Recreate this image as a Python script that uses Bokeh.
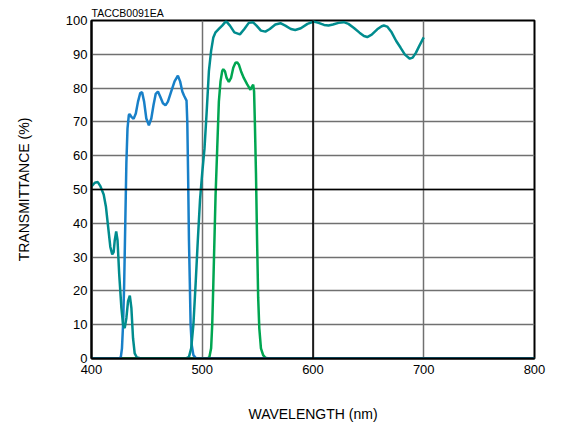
from bokeh.plotting import figure
from bokeh.models import Span, Title, FixedTicker
from bokeh.embed import file_html
from bokeh.resources import INLINE

# ---- data ----
teal_wl = [400, 403, 405.7, 408, 411, 413, 415, 417, 418.7, 420, 421, 422.3, 423.5, 425, 427,
           428.5, 430, 431.5, 433, 434.6, 436, 437.5, 439, 441, 445, 485, 488, 490, 492, 494,
           496, 498, 500, 502, 504, 506, 508, 510, 512, 515, 518, 521.5, 525, 529, 534, 538,
           542, 545.7, 549, 553, 557, 561, 566, 570.6, 575, 580, 584, 589, 595, 600.7, 605,
           610, 614, 618, 623, 627.8, 632, 637, 642, 646, 649, 653, 658, 662, 664, 667, 671,
           675, 679, 683, 687.4, 690, 693, 696, 700]
teal_t = [50.9, 52, 52.2, 51, 48.5, 45, 39, 33, 30.8, 31.5, 35, 37.6, 35, 25, 15,
          10, 9, 12, 17, 18.6, 15, 6, 1.5, 0.3, 0, 0, 0.5, 3, 10, 22,
          35, 47, 55, 62, 73, 85, 91, 95, 96.5, 97.5, 98.5, 99.8, 98.5, 96.5, 95.9, 97.5,
          99.3, 99.5, 98.5, 97, 96.7, 97.5, 98.8, 99.2, 98.5, 97.5, 97.2, 97.7, 99, 99.7, 99.3,
          98.7, 98.5, 98.8, 99.3, 99.5, 99, 97.8, 96.4, 95.4, 95.1, 95.8, 97.4, 98.3, 98.5, 98.2, 96.5,
          94, 92, 89.9, 88.7, 89, 90.5, 92.5, 95]

blue_wl = [400, 425, 426.5, 427.5, 428.5, 429.5, 430.5, 431.5, 432.5, 433.7, 434.5, 436, 438,
           440, 442, 444, 445.7, 447.5, 449.5, 451.8, 454, 456, 458, 460, 462, 464.5, 466.8,
           469, 472, 475, 478, 480, 482, 483.5, 485.8, 486.5, 487.2, 488, 488.8, 489.5, 490.5,
           492, 494, 496, 800]
blue_t = [0, 0, 0.5, 3, 10, 22, 40, 58, 68, 72, 72.3, 71.5, 70.9,
          72.5, 76, 78.5, 78.8, 76, 71, 69, 71, 75, 78.3, 79, 77.5, 75.5, 74.9,
          76, 79, 82, 83.7, 82, 79, 77.8, 76.3, 70, 55, 35, 22, 10, 4,
          1, 0.2, 0, 0]

green_wl = [400, 505, 506.5, 508, 509, 510, 511, 512, 513.5, 515, 516.5, 518, 519, 520.5, 522,
            524, 526, 528, 530, 531.5, 533, 535, 537.5, 540.6, 543.5, 545, 546, 546.8, 547.5,
            548.5, 549.5, 550.5, 551.5, 553, 555, 557, 560, 800]
green_t = [0, 0, 0.5, 3, 10, 22, 35, 48, 62, 76, 82, 85, 85.6, 85, 83,
           81.8, 83, 86, 87.5, 87.6, 87, 85, 83, 81.1, 79.5, 80.5, 81, 79, 70,
           55, 35, 18, 9, 3, 1, 0.2, 0, 0]

x_ticks = [400, 500, 600, 700, 800]
y_ticks = list(range(0, 101, 10))

FONT = "Liberation Sans"

p = figure(width=558, height=424, x_range=(400, 800), y_range=(0, 100),
           output_backend="svg", toolbar_location=None,
           min_border_left=91, min_border_top=20, min_border_right=24, min_border_bottom=40)

p.add_layout(Title(text="TACCB0091EA", align="left", text_font=FONT, text_font_size="10.5px",
                   text_font_style="normal", text_color="black", standoff=3, offset=0), "above")

p.xaxis.ticker = FixedTicker(ticks=x_ticks)
p.yaxis.ticker = FixedTicker(ticks=y_ticks)
for ax in (p.xaxis, p.yaxis):
    ax.major_tick_line_color = None
    ax.minor_tick_line_color = None
    ax.major_tick_out = 0
    ax.major_tick_in = 0
    ax.minor_tick_out = 0
    ax.minor_tick_in = 0
    ax.axis_line_color = "black"
    ax.axis_line_width = 2
    ax.major_label_text_font = FONT
    ax.major_label_text_font_size = "13px"
    ax.major_label_text_color = "black"
    ax.axis_label_text_font = FONT
    ax.axis_label_text_font_size = "14px"
    ax.axis_label_text_font_style = "normal"
    ax.axis_label_text_color = "black"

p.xaxis.major_label_standoff = 6
p.yaxis.major_label_standoff = 4
p.xaxis.axis_label = "WAVELENGTH (nm)"
p.yaxis.axis_label = "TRANSMITTANCE (%)"
p.xaxis.axis_label_standoff = 29
p.yaxis.axis_label_standoff = 31

p.grid.grid_line_color = "#707070"
p.grid.grid_line_width = 1.5
p.outline_line_color = "black"
p.outline_line_width = 2

p.add_layout(Span(location=50, dimension="width", line_color="black", line_width=1.5))
p.add_layout(Span(location=600, dimension="height", line_color="black", line_width=1.5))

p.line(green_wl, green_t, line_color="#00A651", line_width=2.5)
p.line(blue_wl, blue_t, line_color="#1880C8", line_width=2.5)
p.line(teal_wl, teal_t, line_color="#008C8E", line_width=2.5)

open("out.html", "w").write(file_html(p, INLINE))
